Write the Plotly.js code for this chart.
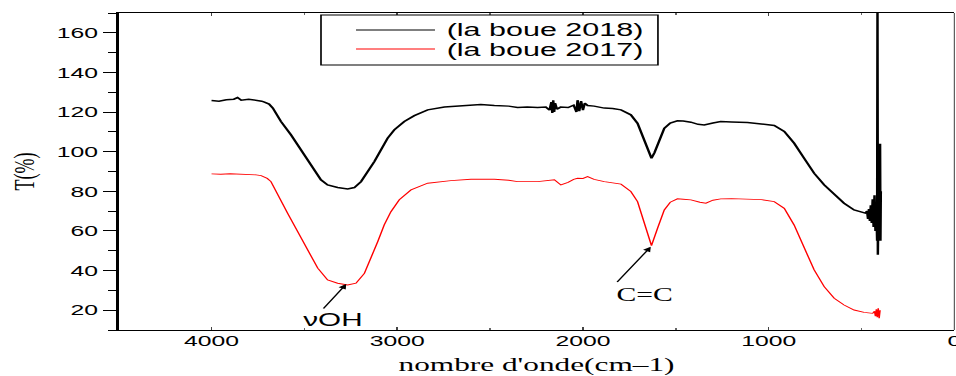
<!DOCTYPE html>
<html>
<head>
<meta charset="utf-8">
<script src="https://cdn.plot.ly/plotly-3.0.1.min.js"></script>
<style>
  html, body { margin: 0; padding: 0; background: #fff; overflow: hidden; }
  #wrap { width: 956px; height: 376px; overflow: hidden; position: relative; }
  #plot { width: 590px; height: 376px; transform: scaleX(1.6483); transform-origin: 0 0; }
</style>
</head>
<body>
<div id="wrap"><div id="plot"></div></div>
<script>
// ---- data ----
const seriesNames = ["(la boue 2018)", "(la boue 2017)"];
const seriesColors = ["#000000", "#ff0000"];

const wn2018 = [4000,3960,3920,3880,3860,3840,3800,3760,3730,3715,3690,3670,3626,3572,3518,3465,3411,3375,3321,3267,3231,3195,3159,3123,3088,3052,3016,2962,2908,2836,2746,2621,2550,2477,2400,2352,2300,2244,2200,2180,2170,2165,2160,2155,2150,2140,2120,2080,2050,2035,2029,2020,2010,2000,1990,1975,1940,1885,1840,1795,1742,1706,1670,1645,1631,1615,1598,1562,1530,1491,1460,1419,1380,1347,1300,1258,1200,1114,1040,970,916,863,809,755,701,647,594,540,500,486,480,470,465,460,455,450,445,440,435,430,425,420,416,414,412,408,404,400,398,396];
const t2018  = [125.8,125.5,126.2,126.5,127.3,126,126.5,126,125.5,125,124,122,115.2,108.5,100.9,92.5,85.8,83.2,81.9,81.2,81.9,84.9,89.9,95,100.9,106.8,111,115.2,118.2,121.1,122.6,123.6,123.8,123.3,123,122.3,122.5,122.3,122.5,121,125,119.5,126,120,124.5,121.5,122.5,122.3,123.5,120,126,120.5,125.5,121,124.5,123.3,123,122,121.8,121.1,118.6,114.3,106,99,96.7,99.5,103.4,111.8,114.5,115.6,115.5,114.9,113.8,113.5,114.5,115.2,115,114.7,114,113.2,110.2,104.3,96.7,89.1,83.2,78.2,74,70.6,69.5,68.9,69,70,66,71,65,73,64,76,62,78,60,72,55,175,48,80,60,104,55,80];

const wn2017 = [4000,3950,3900,3859,3800,3760,3733,3700,3680,3644,3590,3536,3482,3428,3375,3321,3267,3222,3177,3141,3105,3070,3034,2989,2926,2836,2711,2603,2477,2400,2352,2244,2190,2154,2119,2080,2050,2029,2000,1975,1940,1885,1795,1742,1706,1670,1631,1598,1562,1530,1491,1460,1419,1370,1338,1300,1258,1200,1114,1040,970,916,863,809,755,701,647,594,540,486,440,430,425,420,415,410,405,400];
const t2017  = [88.8,88.6,88.9,88.8,88.5,88.3,87.9,86.5,84.9,78.2,68.9,59.6,50.4,41.2,35.3,33.6,32.7,33.6,38.6,46.2,54.6,63,69.7,75.7,80.7,84.1,85.4,86.1,86.1,85.6,84.9,84.9,85.5,85.8,83.2,84.5,86,86.6,86.5,87.4,86,84.9,83.6,79.9,74.8,64.7,52.6,61.4,70.6,74.5,76.2,76,75.7,74.5,74,75.5,76.2,76.3,76.2,75.8,74.8,71.4,63,51.2,40.3,31.9,26,22.6,20.1,18.9,18.4,19.5,17,20.5,16.5,21,16,20];

const xTickVals = [4000, 3000, 2000, 1000, 0];
const yTickVals = [20, 40, 60, 80, 100, 120, 140, 160];

// annotation anchor points (wavenumber, T)
const ohHead = [3275, 33.2], ohTail = [3412, 19.3], ohText = [3345, 15.0];
const ccHead = [1635, 52.0], ccTail = [1831, 32.7], ccText = [1668, 27.9];

const sans = "Liberation Sans, Arial, sans-serif";
const serif = "Liberation Serif, Times New Roman, serif";

const traces = [
  { x: wn2018, y: t2018, name: seriesNames[0], type: "scatter", mode: "lines",
    line: { color: seriesColors[0], width: 1.5 }, showlegend: false },
  { x: wn2017, y: t2017, name: seriesNames[1], type: "scatter", mode: "lines",
    line: { color: seriesColors[1], width: 0.9 }, showlegend: false }
];

// legend box drawn in paper coordinates
const legBox = { x0: 0.2421, x1: 0.6453, y0: 0.836, y1: 0.9937 };
const legLineX = [0.2840, 0.3785];
const legTextX = 0.3893;
const legRowY = [0.9464, 0.8864];

const shapes = [
  { type: "line", xref: "paper", yref: "paper", x0: 1, x1: 1, y0: 0, y1: 1,
    line: { color: "#555", width: 0.7 } },
  { type: "rect", xref: "paper", yref: "paper", x0: legBox.x0, x1: legBox.x1, y0: legBox.y0, y1: legBox.y1,
    line: { color: "#000", width: 1 }, fillcolor: "#ffffff", layer: "above" }
];
const annotations = [];
seriesNames.forEach((n, i) => {
  shapes.push({ type: "line", xref: "paper", yref: "paper", x0: legLineX[0], x1: legLineX[1],
    y0: legRowY[i], y1: legRowY[i], line: { color: seriesColors[i], width: 0.8 }, layer: "above" });
  annotations.push({ xref: "paper", yref: "paper", x: legTextX, y: legRowY[i], xanchor: "left",
    yanchor: "middle", text: n, showarrow: false, font: { family: sans, size: 18.5, color: "#000" } });
});

annotations.push(
  { x: ohHead[0], y: ohHead[1], ax: ohTail[0], ay: ohTail[1], axref: "x", ayref: "y",
    xref: "x", yref: "y", text: " ", showarrow: true, arrowhead: 2, arrowsize: 1,
    arrowwidth: 1, arrowcolor: "#000", font: { size: 2 } },
  { x: ohText[0], y: ohText[1], xref: "x", yref: "y", text: "νOH", showarrow: false,
    font: { family: sans, size: 18, color: "#000" } },
  { x: ccHead[0], y: ccHead[1], ax: ccTail[0], ay: ccTail[1], axref: "x", ayref: "y",
    xref: "x", yref: "y", text: " ", showarrow: true, arrowhead: 2, arrowsize: 1,
    arrowwidth: 1, arrowcolor: "#000", font: { size: 2 } },
  { x: ccText[0], y: ccText[1], xref: "x", yref: "y", text: "C=C", showarrow: false,
    font: { family: serif, size: 18, color: "#000" } }
);

const layout = {
  width: 590, height: 376,
  margin: { l: 72, r: 11, t: 13, b: 46 },
  paper_bgcolor: "#ffffff", plot_bgcolor: "#ffffff",
  showlegend: false,
  xaxis: {
    range: [4500, 0], autorange: false, automargin: false,
    tickvals: xTickVals, ticktext: xTickVals.map(String),
    ticks: "inside", ticklen: 3, tickwidth: 1, tickcolor: "#444",
    ticklabelstandoff: -3,
    minor: { dtick: 500, tick0: 0, ticks: "inside", ticklen: 2, tickcolor: "#666" },
    showline: true, linecolor: "#000", linewidth: 1.4, mirror: "ticks",
    showgrid: false, zeroline: false,
    tickfont: { family: sans, size: 15, color: "#000" },
    title: { text: "nombre d'onde(cm–1)", font: { family: serif, size: 19, color: "#000" }, standoff: 12 }
  },
  yaxis: {
    range: [10, 170], autorange: false, automargin: false,
    tickvals: yTickVals, ticktext: yTickVals.map(String),
    ticks: "outside", ticklen: 8, tickwidth: 1, tickcolor: "#000",
    minor: { dtick: 10, tick0: 0, ticks: "outside", ticklen: 5, tickcolor: "#000" },
    showline: true, linecolor: "#000", linewidth: 1.5, mirror: false,
    showgrid: false, zeroline: false,
    tickfont: { family: sans, size: 15, color: "#000" },
    title: { text: "T(%)", font: { family: serif, size: 18, color: "#000" }, standoff: 8 }
  },
  shapes: shapes,
  annotations: annotations
};

Plotly.newPlot("plot", traces, layout, { displayModeBar: false, staticPlot: true });
</script>
</body>
</html>
